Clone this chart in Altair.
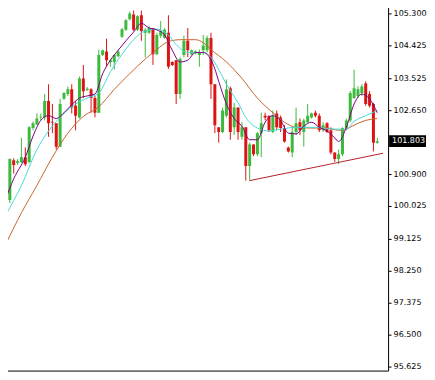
import altair as alt
import pandas as pd

# candle index
idx = list(range(97))
opens = [99.79,100.19,101.28,101.20,101.23,101.36,101.23,102.16,102.26,102.45,
         102.45,102.90,102.33,102.29,101.65,102.96,103.09,103.22,102.77,102.45,
         103.52,103.20,103.22,102.98,102.58,104.16,104.26,103.97,103.97,104.13,
         104.66,104.85,105.14,105.27,104.85,105.25,104.77,104.77,104.90,104.18,
         104.69,104.63,104.77,103.97,104.02,103.09,104.16,104.55,104.18,104.21,
         104.16,104.29,104.29,104.63,103.36,102.18,102.05,102.50,103.25,102.18,
         102.72,101.92,102.18,101.12,101.71,101.44,102.02,102.50,102.50,102.05,
         102.56,102.45,102.16,101.63,101.49,102.05,102.32,102.05,102.32,102.45,
         102.58,102.50,102.10,102.29,102.10,101.49,101.31,101.44,102.16,102.37,
         102.98,103.04,103.12,103.38,103.09,102.82,101.76]
closes = [100.29,101.31,101.15,101.25,101.36,101.17,102.18,102.29,102.42,102.47,
          102.90,102.29,102.31,101.65,102.82,103.12,103.22,102.72,102.50,103.52,
          103.17,103.24,102.98,102.58,104.16,104.29,104.02,104.02,104.16,104.26,
          104.87,105.11,105.30,104.85,105.22,104.82,104.85,104.90,104.18,104.71,
          104.82,104.85,103.84,103.89,103.09,104.05,104.55,104.29,104.29,104.26,
          104.23,104.42,104.63,103.36,102.24,102.05,102.64,103.22,102.05,102.72,
          102.05,102.18,101.12,101.71,101.44,102.02,102.29,102.45,102.10,102.50,
          102.18,102.16,101.79,101.52,102.05,102.29,102.10,102.37,102.50,102.56,
          102.50,102.10,102.24,102.05,101.49,101.31,101.44,102.16,102.37,103.12,
          103.25,103.22,103.30,102.82,102.77,101.76,101.80]
highs = [100.37,101.33,101.33,101.31,101.89,101.63,102.21,102.34,102.56,102.56,
         103.09,103.36,102.82,102.29,102.96,103.14,103.30,103.36,102.90,103.57,
         103.89,103.28,103.25,103.04,104.31,104.31,104.61,104.05,104.18,104.31,
         104.90,105.14,105.35,105.38,105.25,105.38,104.90,104.95,104.90,104.77,
         105.09,104.90,105.25,103.99,104.02,104.10,104.69,104.90,104.31,104.29,
         104.31,104.71,104.69,104.77,103.36,102.18,102.72,103.49,103.30,102.85,
         102.72,102.32,102.18,101.76,101.71,102.05,102.58,102.58,102.50,102.64,
         102.64,102.50,102.24,101.65,102.18,102.72,102.42,102.42,102.82,102.58,
         102.64,102.56,102.32,102.32,102.18,101.49,101.57,102.18,102.42,103.17,
         103.76,103.30,103.36,103.44,103.17,102.85,101.89]
lows = [99.65,100.11,100.91,101.15,101.20,101.12,101.20,102.10,102.24,102.37,
        102.37,101.92,102.02,101.57,101.65,102.93,103.04,102.56,102.10,102.42,
        102.98,103.17,102.58,102.45,102.58,104.13,103.84,103.84,103.76,104.10,
        104.63,104.82,105.11,104.82,104.82,104.55,104.10,104.74,103.89,104.16,
        104.63,104.61,103.78,103.86,102.82,102.96,104.10,104.10,104.16,104.18,
        103.84,104.16,104.23,102.96,102.02,101.76,102.02,102.45,101.84,101.97,
        101.84,101.84,100.72,100.72,101.39,101.39,101.36,102.37,102.05,102.02,
        102.10,102.05,101.76,101.49,101.36,101.97,101.97,101.65,102.29,102.42,
        102.45,102.05,102.05,102.02,101.44,101.23,101.17,101.39,102.10,102.32,
        102.96,102.98,103.04,102.77,102.72,101.52,101.73]

# moving averages
fast_i = [0,2,5,7,9,11,13,15,17,19,21,23,25,27,29,31,33,35,37,39,41,43,45,47,49,51,52,54,55,57,
          59,61,63,65,67,69,71,73,75,77,79,81,83,85,86,88,90,92,94,96]
fast_v = [100.24,100.77,101.36,101.94,102.37,102.50,102.42,102.58,102.80,102.98,103.04,103.09,
          103.65,104.02,104.29,104.55,104.79,105.03,104.90,104.85,104.71,104.29,103.97,104.02,
          104.23,104.23,104.18,103.78,103.44,102.82,102.42,102.21,101.84,101.84,102.32,102.50,
          102.37,102.02,102.00,102.21,102.32,102.18,102.08,101.89,101.79,102.18,102.82,103.09,
          102.96,102.58]
mid_i = [0,4,8,11,14,18,21,24,27,30,33,36,39,42,44,47,51,53,55,57,60,62,65,68,71,75,80,85,88,
         90,93,96]
mid_v = [99.79,100.59,101.57,102.08,102.45,102.82,102.98,103.12,103.70,104.18,104.58,104.82,
         104.87,104.71,104.45,104.23,104.23,104.10,103.76,103.36,102.85,102.45,102.16,102.08,
         102.13,102.18,102.18,102.13,102.13,102.34,102.50,102.64]
slow_i = [0,4,8,12,16,20,24,28,32,36,39,42,45,49,51,53,57,61,65,69,72,75,79,83,86,88,90,93,96]
slow_v = [98.99,99.84,100.59,101.36,102.02,102.48,102.74,103.22,103.65,104.05,104.31,104.53,
          104.58,104.58,104.50,104.31,103.97,103.52,102.98,102.58,102.32,102.18,102.16,102.16,
          102.10,102.13,102.24,102.37,102.42]

trend_i = [63, 97.5]
trend_v = [100.72, 101.47]

last_price = [101.803]
tick_vals = [105.3, 104.425, 103.525, 102.65, 100.9, 100.025, 99.125, 98.25, 97.375, 96.5, 95.625]

df = pd.DataFrame({"i": idx, "o": opens, "c": closes, "h": highs, "l": lows})
up = df[df.c >= df.o]
dn = df[df.c < df.o]

GREEN = "#3cba3c"
RED = "#dc1414"
FONT = "DejaVu Sans"
W, H = 389, 366

xs = alt.Scale(domain=[-0.25, 97.5], nice=False, zero=False)
ys = alt.Scale(domain=[95.516, 105.519], nice=False, zero=False)
X = lambda f="i": alt.X(f"{f}:Q", scale=xs,
                        axis=alt.Axis(labels=False, ticks=False, title=None, grid=False,
                                      domainColor="black", domainWidth=1))
yaxis = alt.Axis(orient="right", values=tick_vals, format=".3f", title=None, grid=False,
                 domainColor="black", tickColor="black", tickSize=3, labelPadding=2,
                 labelColor="black", labelFont=FONT, labelFontSize=8)
Y = lambda f: alt.Y(f"{f}:Q", scale=ys, axis=yaxis)

layers = []
for sub, col in [(up, GREEN), (dn, RED)]:
    b = alt.Chart(sub)
    layers.append(b.mark_rule(strokeWidth=1, clip=True, color=col).encode(x=X(), y=Y("l"), y2="h:Q"))
    layers.append(b.mark_bar(size=3, clip=True, color=col).encode(x=X(), y=Y("o"), y2="c:Q"))

for ii, vv, col in [(slow_i, slow_v, "#c8642a"), (mid_i, mid_v, "#48d8d8"), (fast_i, fast_v, "#800080")]:
    d = pd.DataFrame({"i": ii, "v": vv})
    layers.append(alt.Chart(d).mark_line(strokeWidth=1, color=col, clip=True, interpolate="monotone")
                  .encode(x=X(), y=Y("v")))

td = pd.DataFrame({"i": trend_i, "v": trend_v})
layers.append(alt.Chart(td).mark_line(strokeWidth=1, color="#b8202c", clip=True).encode(x=X(), y=Y("v")))

lp = pd.DataFrame({"p": last_price})
lab = alt.Chart(lp).transform_calculate(p1="datum.p - 0.16", p2="datum.p + 0.16")
layers.append(lab.mark_rect(color="black").encode(
    x=alt.value(W + 1), x2=alt.value(W + 38), y=alt.Y("p1:Q", scale=ys, axis=yaxis), y2="p2:Q"))
layers.append(alt.Chart(lp).mark_text(color="white", align="left", baseline="middle",
                                      font=FONT, fontSize=8).encode(
    x=alt.value(W + 4), y=alt.Y("p:Q", scale=ys, axis=yaxis), text=alt.Text("p:Q", format=".3f")))

chart = alt.layer(*layers).properties(
    width=W, height=H, background="white",
    padding={"left": -8, "top": -3, "right": 0, "bottom": 0}
).configure_view(stroke=None)

chart.save("out.html", embed_options={"renderer": "svg", "actions": False})
